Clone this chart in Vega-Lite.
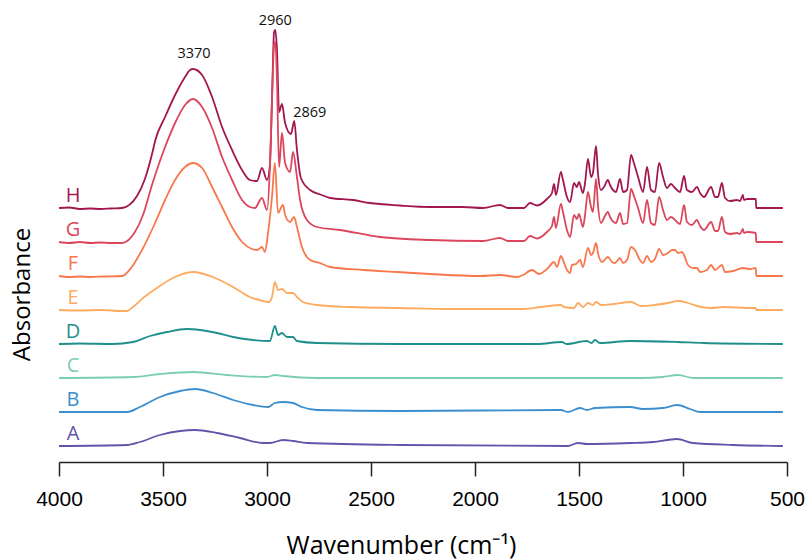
{
  "$schema": "https://vega.github.io/schema/vega-lite/v6.json",
  "width": 728,
  "height": 452,
  "autosize": {"type": "none"},
  "padding": {"left": 59, "top": 10, "right": 25, "bottom": 97},
  "background": "white",
  "config": {"view": {"stroke": null}},
  "datasets": {
    "spectra": [
      {"s":"H","w":4000,"a":2.54},{"s":"H","w":3950,"a":2.545},{"s":"H","w":3900,"a":2.53},{"s":"H","w":3850,"a":2.535},{"s":"H","w":3800,"a":2.53},{"s":"H","w":3750,"a":2.535},{"s":"H","w":3697,"a":2.54},{"s":"H","w":3625,"a":2.66},{"s":"H","w":3587,"a":2.83},{"s":"H","w":3548,"a":3.12},{"s":"H","w":3538,"a":3.21},{"s":"H","w":3490,"a":3.45},{"s":"H","w":3442,"a":3.67},{"s":"H","w":3394,"a":3.85},{"s":"H","w":3370,"a":3.92},{"s":"H","w":3356,"a":3.93},{"s":"H","w":3312,"a":3.87},{"s":"H","w":3264,"a":3.65},{"s":"H","w":3216,"a":3.35},{"s":"H","w":3168,"a":3.12},{"s":"H","w":3120,"a":2.92},{"s":"H","w":3082,"a":2.82},{"s":"H","w":3048,"a":2.81},{"s":"H","w":3024,"a":2.94},{"s":"H","w":3000,"a":2.82},{"s":"H","w":2986,"a":2.97},{"s":"H","w":2976,"a":3.62},{"s":"H","w":2966,"a":4.30},{"s":"H","w":2960,"a":4.32},{"s":"H","w":2952,"a":4.12},{"s":"H","w":2942,"a":3.50},{"s":"H","w":2928,"a":3.58},{"s":"H","w":2913,"a":3.39},{"s":"H","w":2885,"a":3.28},{"s":"H","w":2869,"a":3.41},{"s":"H","w":2856,"a":3.12},{"s":"H","w":2837,"a":2.84},{"s":"H","w":2793,"a":2.72},{"s":"H","w":2736,"a":2.67},{"s":"H","w":2697,"a":2.64},{"s":"H","w":2587,"a":2.62},{"s":"H","w":2505,"a":2.59},{"s":"H","w":2361,"a":2.565},{"s":"H","w":2216,"a":2.55},{"s":"H","w":2058,"a":2.55},{"s":"H","w":1962,"a":2.54},{"s":"H","w":1880,"a":2.57},{"s":"H","w":1841,"a":2.54},{"s":"H","w":1764,"a":2.54},{"s":"H","w":1736,"a":2.59},{"s":"H","w":1702,"a":2.565},{"s":"H","w":1654,"a":2.63},{"s":"H","w":1630,"a":2.69},{"s":"H","w":1620,"a":2.78},{"s":"H","w":1611,"a":2.67},{"s":"H","w":1587,"a":2.90},{"s":"H","w":1577,"a":2.82},{"s":"H","w":1558,"a":2.65},{"s":"H","w":1543,"a":2.60},{"s":"H","w":1524,"a":2.79},{"s":"H","w":1510,"a":2.75},{"s":"H","w":1500,"a":2.80},{"s":"H","w":1481,"a":2.69},{"s":"H","w":1471,"a":2.79},{"s":"H","w":1457,"a":3.03},{"s":"H","w":1442,"a":2.85},{"s":"H","w":1433,"a":2.89},{"s":"H","w":1418,"a":3.16},{"s":"H","w":1409,"a":2.89},{"s":"H","w":1394,"a":2.72},{"s":"H","w":1380,"a":2.75},{"s":"H","w":1361,"a":2.82},{"s":"H","w":1351,"a":2.77},{"s":"H","w":1322,"a":2.70},{"s":"H","w":1303,"a":2.83},{"s":"H","w":1288,"a":2.70},{"s":"H","w":1269,"a":2.72},{"s":"H","w":1250,"a":3.07},{"s":"H","w":1236,"a":2.99},{"s":"H","w":1216,"a":2.85},{"s":"H","w":1192,"a":2.70},{"s":"H","w":1173,"a":2.95},{"s":"H","w":1154,"a":2.72},{"s":"H","w":1135,"a":2.70},{"s":"H","w":1115,"a":2.99},{"s":"H","w":1096,"a":2.85},{"s":"H","w":1077,"a":2.74},{"s":"H","w":1058,"a":2.78},{"s":"H","w":1043,"a":2.75},{"s":"H","w":1029,"a":2.72},{"s":"H","w":1014,"a":2.70},{"s":"H","w":995,"a":2.86},{"s":"H","w":981,"a":2.72},{"s":"H","w":957,"a":2.70},{"s":"H","w":933,"a":2.75},{"s":"H","w":918,"a":2.69},{"s":"H","w":899,"a":2.65},{"s":"H","w":865,"a":2.75},{"s":"H","w":846,"a":2.65},{"s":"H","w":832,"a":2.65},{"s":"H","w":813,"a":2.79},{"s":"H","w":798,"a":2.64},{"s":"H","w":774,"a":2.61},{"s":"H","w":740,"a":2.62},{"s":"H","w":726,"a":2.61},{"s":"H","w":712,"a":2.67},{"s":"H","w":707,"a":2.62},{"s":"H","w":692,"a":2.63},{"s":"H","w":650,"a":2.63},{"s":"H","w":648,"a":2.54},{"s":"H","w":520,"a":2.54},

      {"s":"G","w":4000,"a":2.20},{"s":"G","w":3950,"a":2.19},{"s":"G","w":3900,"a":2.20},{"s":"G","w":3850,"a":2.19},{"s":"G","w":3800,"a":2.195},{"s":"G","w":3750,"a":2.19},{"s":"G","w":3697,"a":2.19},{"s":"G","w":3635,"a":2.30},{"s":"G","w":3596,"a":2.47},{"s":"G","w":3553,"a":2.77},{"s":"G","w":3490,"a":3.15},{"s":"G","w":3442,"a":3.39},{"s":"G","w":3394,"a":3.57},{"s":"G","w":3356,"a":3.63},{"s":"G","w":3312,"a":3.55},{"s":"G","w":3264,"a":3.34},{"s":"G","w":3216,"a":3.05},{"s":"G","w":3168,"a":2.82},{"s":"G","w":3120,"a":2.62},{"s":"G","w":3082,"a":2.55},{"s":"G","w":3058,"a":2.54},{"s":"G","w":3024,"a":2.64},{"s":"G","w":3000,"a":2.52},{"s":"G","w":2986,"a":2.95},{"s":"G","w":2976,"a":3.62},{"s":"G","w":2966,"a":4.17},{"s":"G","w":2960,"a":4.20},{"s":"G","w":2952,"a":3.82},{"s":"G","w":2942,"a":2.95},{"s":"G","w":2928,"a":3.29},{"s":"G","w":2913,"a":2.99},{"s":"G","w":2889,"a":2.90},{"s":"G","w":2875,"a":3.10},{"s":"G","w":2856,"a":2.85},{"s":"G","w":2841,"a":2.62},{"s":"G","w":2808,"a":2.42},{"s":"G","w":2760,"a":2.35},{"s":"G","w":2649,"a":2.32},{"s":"G","w":2457,"a":2.25},{"s":"G","w":2216,"a":2.22},{"s":"G","w":1962,"a":2.21},{"s":"G","w":1880,"a":2.24},{"s":"G","w":1841,"a":2.21},{"s":"G","w":1764,"a":2.21},{"s":"G","w":1736,"a":2.26},{"s":"G","w":1702,"a":2.235},{"s":"G","w":1654,"a":2.30},{"s":"G","w":1630,"a":2.36},{"s":"G","w":1620,"a":2.45},{"s":"G","w":1611,"a":2.34},{"s":"G","w":1587,"a":2.58},{"s":"G","w":1577,"a":2.50},{"s":"G","w":1558,"a":2.32},{"s":"G","w":1543,"a":2.25},{"s":"G","w":1524,"a":2.47},{"s":"G","w":1510,"a":2.43},{"s":"G","w":1500,"a":2.48},{"s":"G","w":1481,"a":2.35},{"s":"G","w":1471,"a":2.47},{"s":"G","w":1457,"a":2.70},{"s":"G","w":1442,"a":2.55},{"s":"G","w":1433,"a":2.50},{"s":"G","w":1418,"a":2.83},{"s":"G","w":1409,"a":2.57},{"s":"G","w":1394,"a":2.39},{"s":"G","w":1380,"a":2.44},{"s":"G","w":1361,"a":2.50},{"s":"G","w":1351,"a":2.45},{"s":"G","w":1322,"a":2.39},{"s":"G","w":1303,"a":2.49},{"s":"G","w":1288,"a":2.38},{"s":"G","w":1269,"a":2.39},{"s":"G","w":1250,"a":2.73},{"s":"G","w":1236,"a":2.66},{"s":"G","w":1216,"a":2.54},{"s":"G","w":1192,"a":2.39},{"s":"G","w":1173,"a":2.62},{"s":"G","w":1154,"a":2.39},{"s":"G","w":1135,"a":2.37},{"s":"G","w":1115,"a":2.65},{"s":"G","w":1096,"a":2.52},{"s":"G","w":1077,"a":2.42},{"s":"G","w":1058,"a":2.45},{"s":"G","w":1043,"a":2.43},{"s":"G","w":1029,"a":2.40},{"s":"G","w":1014,"a":2.38},{"s":"G","w":995,"a":2.57},{"s":"G","w":981,"a":2.40},{"s":"G","w":957,"a":2.37},{"s":"G","w":933,"a":2.42},{"s":"G","w":918,"a":2.36},{"s":"G","w":899,"a":2.32},{"s":"G","w":865,"a":2.40},{"s":"G","w":846,"a":2.31},{"s":"G","w":832,"a":2.31},{"s":"G","w":813,"a":2.45},{"s":"G","w":798,"a":2.30},{"s":"G","w":774,"a":2.28},{"s":"G","w":740,"a":2.29},{"s":"G","w":726,"a":2.28},{"s":"G","w":712,"a":2.33},{"s":"G","w":707,"a":2.29},{"s":"G","w":692,"a":2.30},{"s":"G","w":650,"a":2.29},{"s":"G","w":648,"a":2.20},{"s":"G","w":520,"a":2.20},

      {"s":"F","w":4000,"a":1.86},{"s":"F","w":3950,"a":1.85},{"s":"F","w":3900,"a":1.855},{"s":"F","w":3850,"a":1.85},{"s":"F","w":3780,"a":1.855},{"s":"F","w":3697,"a":1.86},{"s":"F","w":3650,"a":1.95},{"s":"F","w":3601,"a":2.12},{"s":"F","w":3538,"a":2.39},{"s":"F","w":3490,"a":2.62},{"s":"F","w":3442,"a":2.82},{"s":"F","w":3394,"a":2.95},{"s":"F","w":3356,"a":2.99},{"s":"F","w":3312,"a":2.94},{"s":"F","w":3264,"a":2.75},{"s":"F","w":3216,"a":2.55},{"s":"F","w":3168,"a":2.35},{"s":"F","w":3120,"a":2.20},{"s":"F","w":3072,"a":2.13},{"s":"F","w":3048,"a":2.12},{"s":"F","w":3024,"a":2.15},{"s":"F","w":3010,"a":2.10},{"s":"F","w":2995,"a":2.29},{"s":"F","w":2976,"a":2.65},{"s":"F","w":2962,"a":2.99},{"s":"F","w":2947,"a":2.49},{"s":"F","w":2923,"a":2.57},{"s":"F","w":2913,"a":2.47},{"s":"F","w":2889,"a":2.40},{"s":"F","w":2870,"a":2.45},{"s":"F","w":2856,"a":2.35},{"s":"F","w":2832,"a":2.15},{"s":"F","w":2793,"a":2.02},{"s":"F","w":2745,"a":1.99},{"s":"F","w":2697,"a":1.95},{"s":"F","w":2538,"a":1.92},{"s":"F","w":2375,"a":1.90},{"s":"F","w":2216,"a":1.88},{"s":"F","w":1976,"a":1.86},{"s":"F","w":1880,"a":1.87},{"s":"F","w":1798,"a":1.85},{"s":"F","w":1769,"a":1.87},{"s":"F","w":1726,"a":1.92},{"s":"F","w":1692,"a":1.88},{"s":"F","w":1649,"a":1.94},{"s":"F","w":1620,"a":2.00},{"s":"F","w":1606,"a":1.95},{"s":"F","w":1587,"a":2.06},{"s":"F","w":1577,"a":2.02},{"s":"F","w":1558,"a":1.92},{"s":"F","w":1543,"a":1.89},{"s":"F","w":1534,"a":1.97},{"s":"F","w":1514,"a":1.98},{"s":"F","w":1495,"a":2.02},{"s":"F","w":1481,"a":1.95},{"s":"F","w":1457,"a":2.14},{"s":"F","w":1442,"a":2.07},{"s":"F","w":1433,"a":2.09},{"s":"F","w":1418,"a":2.19},{"s":"F","w":1409,"a":2.09},{"s":"F","w":1389,"a":2.00},{"s":"F","w":1361,"a":2.05},{"s":"F","w":1341,"a":2.00},{"s":"F","w":1327,"a":1.99},{"s":"F","w":1303,"a":2.04},{"s":"F","w":1288,"a":1.99},{"s":"F","w":1269,"a":2.02},{"s":"F","w":1250,"a":2.15},{"s":"F","w":1231,"a":2.12},{"s":"F","w":1207,"a":2.02},{"s":"F","w":1192,"a":1.99},{"s":"F","w":1173,"a":2.06},{"s":"F","w":1154,"a":2.00},{"s":"F","w":1135,"a":2.03},{"s":"F","w":1115,"a":2.13},{"s":"F","w":1096,"a":2.07},{"s":"F","w":1072,"a":2.09},{"s":"F","w":1053,"a":2.12},{"s":"F","w":1038,"a":2.12},{"s":"F","w":1024,"a":2.09},{"s":"F","w":1005,"a":2.10},{"s":"F","w":995,"a":2.07},{"s":"F","w":976,"a":1.97},{"s":"F","w":952,"a":1.94},{"s":"F","w":933,"a":1.94},{"s":"F","w":918,"a":1.90},{"s":"F","w":885,"a":1.92},{"s":"F","w":865,"a":1.97},{"s":"F","w":846,"a":1.92},{"s":"F","w":813,"a":1.97},{"s":"F","w":798,"a":1.90},{"s":"F","w":760,"a":1.91},{"s":"F","w":712,"a":1.94},{"s":"F","w":678,"a":1.93},{"s":"F","w":650,"a":1.94},{"s":"F","w":648,"a":1.86},{"s":"F","w":520,"a":1.86},

      {"s":"E","w":4000,"a":1.52},{"s":"E","w":3900,"a":1.515},{"s":"E","w":3800,"a":1.52},{"s":"E","w":3697,"a":1.51},{"s":"E","w":3673,"a":1.51},{"s":"E","w":3644,"a":1.55},{"s":"E","w":3596,"a":1.64},{"s":"E","w":3529,"a":1.74},{"s":"E","w":3452,"a":1.84},{"s":"E","w":3356,"a":1.90},{"s":"E","w":3260,"a":1.85},{"s":"E","w":3163,"a":1.75},{"s":"E","w":3082,"a":1.65},{"s":"E","w":3019,"a":1.61},{"s":"E","w":2990,"a":1.60},{"s":"E","w":2976,"a":1.65},{"s":"E","w":2962,"a":1.80},{"s":"E","w":2947,"a":1.72},{"s":"E","w":2928,"a":1.73},{"s":"E","w":2904,"a":1.69},{"s":"E","w":2875,"a":1.69},{"s":"E","w":2856,"a":1.65},{"s":"E","w":2827,"a":1.60},{"s":"E","w":2760,"a":1.57},{"s":"E","w":2601,"a":1.55},{"s":"E","w":2361,"a":1.54},{"s":"E","w":2120,"a":1.53},{"s":"E","w":1764,"a":1.53},{"s":"E","w":1683,"a":1.55},{"s":"E","w":1587,"a":1.57},{"s":"E","w":1572,"a":1.55},{"s":"E","w":1524,"a":1.54},{"s":"E","w":1505,"a":1.59},{"s":"E","w":1481,"a":1.55},{"s":"E","w":1457,"a":1.59},{"s":"E","w":1433,"a":1.57},{"s":"E","w":1418,"a":1.60},{"s":"E","w":1394,"a":1.57},{"s":"E","w":1332,"a":1.58},{"s":"E","w":1250,"a":1.60},{"s":"E","w":1202,"a":1.56},{"s":"E","w":1139,"a":1.57},{"s":"E","w":1072,"a":1.59},{"s":"E","w":1024,"a":1.61},{"s":"E","w":976,"a":1.59},{"s":"E","w":913,"a":1.55},{"s":"E","w":865,"a":1.54},{"s":"E","w":808,"a":1.55},{"s":"E","w":663,"a":1.54},{"s":"E","w":650,"a":1.54},{"s":"E","w":648,"a":1.52},{"s":"E","w":520,"a":1.52},

      {"s":"D","w":4000,"a":1.18},{"s":"D","w":3900,"a":1.185},{"s":"D","w":3745,"a":1.18},{"s":"D","w":3644,"a":1.20},{"s":"D","w":3562,"a":1.26},{"s":"D","w":3481,"a":1.30},{"s":"D","w":3385,"a":1.33},{"s":"D","w":3322,"a":1.32},{"s":"D","w":3240,"a":1.29},{"s":"D","w":3163,"a":1.25},{"s":"D","w":3067,"a":1.22},{"s":"D","w":2986,"a":1.21},{"s":"D","w":2962,"a":1.36},{"s":"D","w":2947,"a":1.27},{"s":"D","w":2928,"a":1.29},{"s":"D","w":2904,"a":1.25},{"s":"D","w":2875,"a":1.25},{"s":"D","w":2856,"a":1.21},{"s":"D","w":2760,"a":1.19},{"s":"D","w":2361,"a":1.18},{"s":"D","w":1700,"a":1.18},{"s":"D","w":1582,"a":1.20},{"s":"D","w":1560,"a":1.18},{"s":"D","w":1462,"a":1.21},{"s":"D","w":1440,"a":1.19},{"s":"D","w":1423,"a":1.22},{"s":"D","w":1400,"a":1.19},{"s":"D","w":1255,"a":1.21},{"s":"D","w":1029,"a":1.20},{"s":"D","w":900,"a":1.19},{"s":"D","w":520,"a":1.18},

      {"s":"C","w":4000,"a":0.84},{"s":"C","w":3644,"a":0.85},{"s":"C","w":3514,"a":0.88},{"s":"C","w":3356,"a":0.90},{"s":"C","w":3192,"a":0.87},{"s":"C","w":3000,"a":0.85},{"s":"C","w":2962,"a":0.87},{"s":"C","w":2923,"a":0.86},{"s":"C","w":2760,"a":0.84},{"s":"C","w":1200,"a":0.84},{"s":"C","w":1100,"a":0.85},{"s":"C","w":1024,"a":0.87},{"s":"C","w":950,"a":0.84},{"s":"C","w":520,"a":0.84},

      {"s":"B","w":4000,"a":0.50},{"s":"B","w":3673,"a":0.50},{"s":"B","w":3611,"a":0.55},{"s":"B","w":3514,"a":0.65},{"s":"B","w":3418,"a":0.71},{"s":"B","w":3346,"a":0.73},{"s":"B","w":3260,"a":0.69},{"s":"B","w":3163,"a":0.62},{"s":"B","w":3067,"a":0.57},{"s":"B","w":2995,"a":0.55},{"s":"B","w":2962,"a":0.59},{"s":"B","w":2923,"a":0.60},{"s":"B","w":2875,"a":0.59},{"s":"B","w":2832,"a":0.55},{"s":"B","w":2760,"a":0.52},{"s":"B","w":2361,"a":0.51},{"s":"B","w":1587,"a":0.52},{"s":"B","w":1553,"a":0.50},{"s":"B","w":1495,"a":0.54},{"s":"B","w":1462,"a":0.52},{"s":"B","w":1423,"a":0.54},{"s":"B","w":1255,"a":0.55},{"s":"B","w":1192,"a":0.53},{"s":"B","w":1096,"a":0.54},{"s":"B","w":1029,"a":0.57},{"s":"B","w":966,"a":0.53},{"s":"B","w":918,"a":0.50},{"s":"B","w":520,"a":0.50},

      {"s":"A","w":4000,"a":0.16},{"s":"A","w":3673,"a":0.17},{"s":"A","w":3611,"a":0.20},{"s":"A","w":3514,"a":0.27},{"s":"A","w":3418,"a":0.31},{"s":"A","w":3346,"a":0.32},{"s":"A","w":3240,"a":0.29},{"s":"A","w":3130,"a":0.24},{"s":"A","w":3019,"a":0.19},{"s":"A","w":2986,"a":0.19},{"s":"A","w":2923,"a":0.22},{"s":"A","w":2875,"a":0.21},{"s":"A","w":2808,"a":0.19},{"s":"A","w":2361,"a":0.17},{"s":"A","w":1553,"a":0.16},{"s":"A","w":1505,"a":0.19},{"s":"A","w":1462,"a":0.18},{"s":"A","w":1255,"a":0.19},{"s":"A","w":1144,"a":0.20},{"s":"A","w":1029,"a":0.23},{"s":"A","w":952,"a":0.19},{"s":"A","w":760,"a":0.17},{"s":"A","w":520,"a":0.16}
    ]
  },
  "data": {"name": "spectra"},
  "encoding": {
    "x": {
      "field": "w",
      "type": "quantitative",
      "scale": {"domain": [4000, 500], "nice": false, "zero": false},
      "axis": {
        "values": [4000, 3500, 3000, 2500, 2000, 1500, 1000, 500],
        "format": "d",
        "grid": false,
        "domainColor": "#222",
        "domainWidth": 1.5,
        "tickColor": "#222",
        "tickWidth": 1.5,
        "tickSize": 14,
        "labelFont": "Liberation Sans",
        "labelFontSize": 21,
        "labelColor": "#000",
        "labelPadding": 12,
        "labelFlush": false,
        "title": "Wavenumber (cm⁻¹)",
        "titleFont": "Open Sans",
        "titleFontSize": 25,
        "titleFontWeight": "normal",
        "titleColor": "#000",
        "titlePadding": 24,
        "titleX": 342
      }
    },
    "y": {
      "field": "a",
      "type": "quantitative",
      "scale": {"domain": [0, 4.52], "nice": false, "zero": false},
      "axis": {
        "domain": false,
        "ticks": false,
        "labels": false,
        "grid": false,
        "title": "Absorbance",
        "titleFont": "Open Sans",
        "titleFontSize": 24,
        "titleFontWeight": "normal",
        "titleColor": "#000",
        "titlePadding": 25,
        "titleY": 284
      }
    },
    "color": {
      "field": "s",
      "type": "nominal",
      "scale": {
        "domain": ["A", "B", "C", "D", "E", "F", "G", "H"],
        "range": ["#6652aa", "#3b8fcf", "#7ccfae", "#1f8f8c", "#fdab5f", "#f8784c", "#dc465c", "#a3174f"]
      },
      "legend": null
    }
  },
  "layer": [
    {
      "mark": {"type": "line", "strokeWidth": 1.8, "interpolate": "monotone"},
      "encoding": {"order": {"field": "w", "sort": "descending"}}
    },
    {
      "transform": [{"filter": "datum.w === 4000"}],
      "mark": {"type": "text", "font": "Open Sans", "fontSize": 20, "align": "center", "baseline": "alphabetic", "dx": 14, "dy": -6},
      "encoding": {"text": {"field": "s"}}
    },
    {
      "transform": [{"filter": "datum.s === 'H' && datum.w === 3370"}],
      "mark": {"type": "text", "font": "Open Sans", "fontSize": 14.5, "align": "center", "baseline": "alphabetic", "dx": 4, "dy": -12},
      "encoding": {"text": {"field": "w", "format": "d"}, "color": {"value": "#111"}}
    },
    {
      "transform": [{"filter": "datum.s === 'H' && datum.w === 2960"}],
      "mark": {"type": "text", "font": "Open Sans", "fontSize": 14.5, "align": "center", "baseline": "alphabetic", "dy": -5},
      "encoding": {"text": {"field": "w", "format": "d"}, "color": {"value": "#111"}}
    },
    {
      "transform": [{"filter": "datum.s === 'H' && datum.w === 2869"}],
      "mark": {"type": "text", "font": "Open Sans", "fontSize": 14.5, "align": "left", "baseline": "alphabetic", "dx": -1, "dy": -4},
      "encoding": {"text": {"field": "w", "format": "d"}, "color": {"value": "#111"}}
    }
  ]
}
